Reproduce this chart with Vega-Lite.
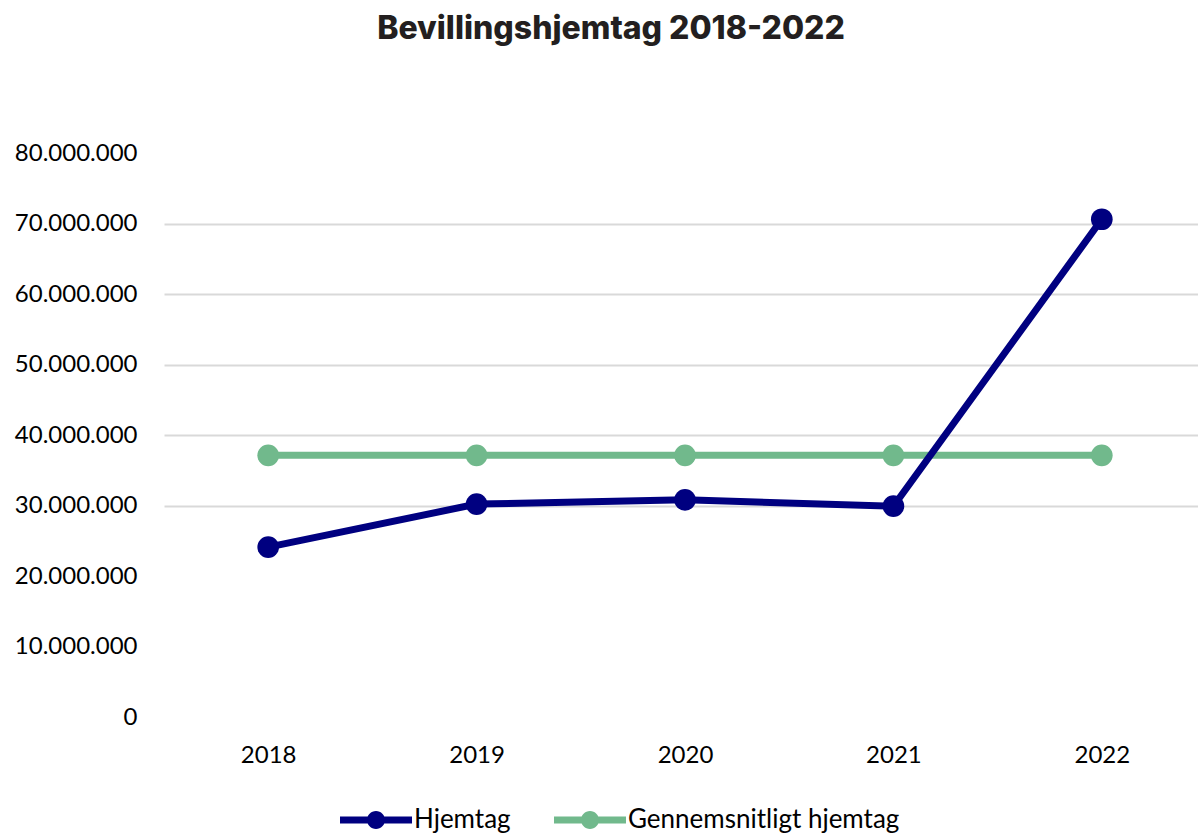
{
  "$schema": "https://vega.github.io/schema/vega-lite/v6.json",
  "autosize": {"type": "none"},
  "width": 1042,
  "height": 564,
  "padding": {"left": 164, "top": 153, "right": 0, "bottom": 117},
  "background": "white",
  "config": {
    "view": {"stroke": null},
    "font": "Lato"
  },
  "title": {
    "text": "Bevillingshjemtag 2018-2022",
    "font": "Inter",
    "fontSize": 32,
    "fontWeight": 800,
    "color": "#231F20",
    "anchor": "middle",
    "dx": -74,
    "offset": 95
  },
  "data": {
    "values": [
      {"year": "2018", "series": "Hjemtag", "value": 24100000},
      {"year": "2019", "series": "Hjemtag", "value": 30200000},
      {"year": "2020", "series": "Hjemtag", "value": 30800000},
      {"year": "2021", "series": "Hjemtag", "value": 29900000},
      {"year": "2022", "series": "Hjemtag", "value": 70600000},
      {"year": "2018", "series": "Gennemsnitligt hjemtag", "value": 37120000},
      {"year": "2019", "series": "Gennemsnitligt hjemtag", "value": 37120000},
      {"year": "2020", "series": "Gennemsnitligt hjemtag", "value": 37120000},
      {"year": "2021", "series": "Gennemsnitligt hjemtag", "value": 37120000},
      {"year": "2022", "series": "Gennemsnitligt hjemtag", "value": 37120000}
    ]
  },
  "encoding": {
    "x": {
      "field": "year",
      "type": "ordinal",
      "scale": {"type": "point", "padding": 0.5},
      "axis": {
        "title": null,
        "labelAngle": 0,
        "domain": false,
        "ticks": false,
        "labelFont": "Lato",
        "labelFontSize": 24,
        "labelColor": "#000000",
        "labelPadding": 26
      }
    },
    "y": {
      "field": "value",
      "type": "quantitative",
      "scale": {"domain": [0, 80000000], "nice": false},
      "axis": {
        "title": null,
        "values": [0, 10000000, 20000000, 30000000, 40000000, 50000000, 60000000, 70000000, 80000000],
        "labelExpr": "replace(format(datum.value, ',d'), /,/g, '.')",
        "domain": false,
        "ticks": false,
        "labelFont": "Lato",
        "labelFontSize": 24,
        "labelColor": "#000000",
        "labelPadding": 27,
        "grid": true,
        "gridColor": "#D9D9D9",
        "gridWidth": 2,
        "gridOpacity": {"condition": {"test": "datum.value >= 30000000 && datum.value <= 70000000", "value": 1}, "value": 0}
      }
    },
    "color": {
      "field": "series",
      "type": "nominal",
      "scale": {
        "domain": ["Hjemtag", "Gennemsnitligt hjemtag"],
        "range": ["#000080", "#71B98C"]
      },
      "legend": {
        "title": null,
        "orient": "none",
        "direction": "horizontal",
        "legendX": 176,
        "legendY": 631,
        "symbolType": "M-1,-0.1 L1,-0.1 L1,0.1 L-1,0.1 Z M-0.25,0 A0.25,0.25 0 1 1 0.25,0 A0.25,0.25 0 1 1 -0.25,0 Z",
        "symbolSize": 5184,
        "symbolStrokeWidth": 0,
        "symbolOpacity": 1,
        "labelFont": "Lato",
        "labelFontSize": 26,
        "labelColor": "#000000",
        "labelOffset": 2,
        "labelLimit": 500,
        "columnPadding": 43
      }
    }
  },
  "layer": [
    {
      "transform": [{"filter": "datum.series === 'Gennemsnitligt hjemtag'"}],
      "mark": {"type": "line", "strokeWidth": 7, "strokeCap": "round"}
    },
    {
      "transform": [{"filter": "datum.series === 'Gennemsnitligt hjemtag'"}],
      "mark": {"type": "point", "filled": true, "opacity": 1, "size": 470}
    },
    {
      "transform": [{"filter": "datum.series === 'Hjemtag'"}],
      "mark": {"type": "line", "strokeWidth": 7, "strokeCap": "round"}
    },
    {
      "transform": [{"filter": "datum.series === 'Hjemtag'"}],
      "mark": {"type": "point", "filled": true, "opacity": 1, "size": 470}
    }
  ]
}
